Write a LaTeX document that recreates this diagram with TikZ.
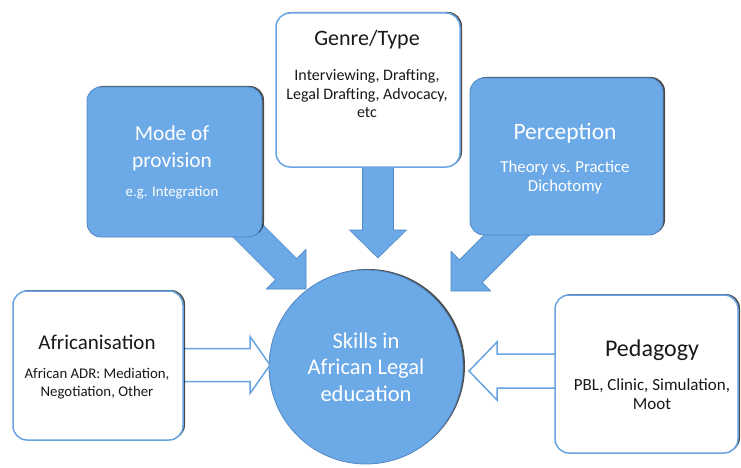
\documentclass[tikz,border=0pt]{standalone}
\usepackage{fontspec}
\setmainfont{Carlito}
\usetikzlibrary{positioning,shadows}
\definecolor{skyfill}{RGB}{108,169,231}
\definecolor{skyedge}{RGB}{80,135,196}
\definecolor{skyline}{RGB}{104,164,226}
\definecolor{inkgrey}{RGB}{25,25,25}
% block arrow: total length, head length, shaft half width, head half width; tip at the origin
\tikzset{
  pics/blockarrow/.style n args={4}{code={
    \path[pic actions] (0,0) -- (-#2,#4) -- (-#2,#3) -- (-#1,#3) -- (-#1,-#3) -- (-#2,-#3) -- (-#2,-#4) -- cycle;
  }},
}
\begin{document}
\begin{tikzpicture}[x=1pt,y=-1pt,
  boxshade/.style={drop shadow={shadow xshift=2pt,shadow yshift=1pt,opacity=.7,fill=black}},
  whitebox/.style={rectangle,draw=skyline,line width=1.5pt,fill=white,rounded corners=14pt,boxshade},
  bluebox/.style={rectangle,draw=skyedge,line width=.8pt,fill=skyfill,rounded corners=14pt,boxshade},
  hub/.style={circle,draw=skyedge,line width=.8pt,fill=skyfill,minimum size=194pt,inner sep=0pt,
    text=white,align=center,boxshade},
  boldarrow/.style={fill=skyfill,draw=skyedge,line width=.6pt},
  hollowarrow/.style={fill=white,draw=skyline,line width=1.5pt},
  darktext/.style={text=inkgrey,align=center,inner sep=0pt},
  lighttext/.style={text=white,align=center,inner sep=0pt}]
  \useasboundingbox (0,0) rectangle (741,468);

  % centre
  \node[hub,font=\fontsize{22.5}{26.5}\selectfont] (skills) at (366,367) {Skills in\\African Legal\\education};

  % arrows into the centre
  \pic[boldarrow,rotate=-45] at (306,289) {blockarrow={93}{28}{15}{28}};
  \pic[boldarrow,rotate=-90] at (378,258) {blockarrow={98}{28}{15.5}{28.5}};
  \pic[boldarrow,rotate=-135] at (451,291) {blockarrow={100}{28}{16}{28}};
  \pic[hollowarrow] at (270,365) {blockarrow={92}{20}{16.5}{28.5}};
  \pic[hollowarrow,rotate=180] at (469,371) {blockarrow={91}{28}{17}{29}};

  % boxes
  \node[bluebox,minimum width=175pt,minimum height=150pt] (mode) at (174.5,162) {};
  \node[lighttext,font=\fontsize{21.4}{27}\selectfont] (modeT) at (172,148.5) {Mode of\\provision};
  \node[lighttext,font=\fontsize{14.8}{18}\selectfont] (modeS) at (172,193) {e.g. Integration};

  \node[whitebox,minimum width=184pt,minimum height=154pt] (genre) at (368,90) {};
  \node[darktext,font=\fontsize{22}{26}\selectfont] (genreT) at (367,40) {Genre/Type};
  \node[darktext,font=\fontsize{16}{18.5}\selectfont] (genreS) at (367,94) {Interviewing, Drafting,\\Legal Drafting, Advocacy,\\etc};

  \node[bluebox,minimum width=193pt,minimum height=157pt] (percep) at (566.5,156.5) {};
  \node[lighttext,font=\fontsize{23.5}{27}\selectfont] (percepT) at (565,133) {Perception};
  \node[lighttext,font=\fontsize{16.8}{19}\selectfont] (percepS) at (565,177.5) {Theory vs. Practice\\Dichotomy};

  \node[whitebox,minimum width=170pt,minimum height=149pt] (africa) at (98,365.5) {};
  \node[darktext,font=\fontsize{21}{25}\selectfont] (africaT) at (97,342) {Africanisation};
  \node[darktext,font=\fontsize{14.8}{18}\selectfont] (africaS) at (97,384) {African ADR: Mediation,\\Negotiation, Other};

  \node[whitebox,minimum width=183pt,minimum height=158pt] (pedag) at (646.5,374) {};
  \node[darktext,font=\fontsize{24}{28}\selectfont] (pedagT) at (652,350) {Pedagogy};
  \node[darktext,font=\fontsize{17}{18.5}\selectfont] (pedagS) at (652,394) {PBL, Clinic, Simulation,\\Moot};
\end{tikzpicture}
\end{document}
